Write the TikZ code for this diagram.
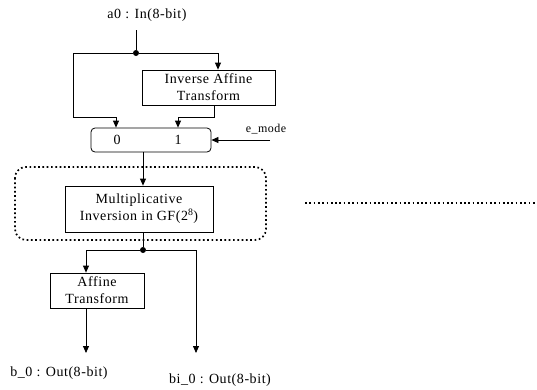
\documentclass[tikz,border=0pt]{standalone}
\usepackage{fontspec}
\setmainfont[LetterSpace=4]{Liberation Serif}
\usetikzlibrary{arrows.meta,calc}
\begin{document}
\begin{tikzpicture}[x=1pt,y=-1pt,
  every node/.style={font=\fontsize{14}{17}\selectfont, inner sep=0pt},
  wire/.style={line width=0.8pt},
  arr/.style={wire,-{Triangle[length=7pt,width=6pt]}},
  blockbox/.style={draw, line width=0.8pt, align=center, minimum width=#1},
  junction/.style={circle, fill, minimum size=6pt},
  dotline/.style={line width=1.7pt, dash pattern=on 1.7pt off 2.6pt}]
\useasboundingbox (0,0) rectangle (537,389);

% input and first split
\node (a0) at (147,15) {a0 : In(8-bit)};
\coordinate (in) at (136,30);
\node[junction] (dot1) at (136,53) {};
\draw[wire] (in) -- (dot1);

% inverse affine transform
\node[blockbox=133pt, minimum height=35pt] (iat) at (208.5,87.5)
  {Inverse Affine\\Transform};

% multiplexer
\node[draw, line width=0.8pt, rounded corners=4pt, minimum width=120pt,
  minimum height=24pt] (mux) at (151,140) {};
\node (m0) at (117,140) {0};
\node (m1) at (178,140) {1};

\coordinate (lb) at (73,117);
\coordinate (i1) at (218,53);
\coordinate (i2) at (214,117);
\coordinate (mx0) at (116,117);
\coordinate (mx1) at (178,117);
\draw[arr] (dot1) -| (lb) -- (mx0) -- (mx0 |- mux.north);
\draw[arr] (dot1) -- (i1) -- (i1 |- iat.north);
\draw[arr] (i2 |- iat.south) -- (i2) -- (mx1) -- (mx1 |- mux.north);

% mode select
\coordinate (em) at (270,140);
\node (emode) at (266,129) {\fontsize{12}{14}\selectfont e\_mode};
\draw[arr] (em) -- (mux.east);

% multiplicative inversion, inside the dotted region
\draw[dotline, rounded corners=11pt] (15,167) rectangle (266,240);
\node[blockbox=148pt, minimum height=46pt] (mi) at (139,209)
  {Multiplicative\\Inversion in GF(2\textsuperscript{8})};
\coordinate (c) at (143,0);
\draw[arr] (c |- mux.south) -- (c |- mi.north);

% second split and outputs
\node[junction] (dot2) at (143,250) {};
\draw[wire] (c |- mi.south) -- (dot2);

\node[blockbox=94pt, minimum height=35pt] (aff) at (97,290.5)
  {Affine\\Transform};
\coordinate (af) at (86,250);
\coordinate (o1) at (86,353);
\coordinate (o2) at (196,353);
\draw[arr] (dot2) -- (af) -- (af |- aff.north);
\draw[arr] (o1 |- aff.south) -- (o1);
\draw[arr] (dot2) -| (o2);

\node (b0) at (59,373) {b\_0 : Out(8-bit)};
\node (bi0) at (220,380) {bi\_0 : Out(8-bit)};

% dotted rule on the right
\coordinate (r1) at (305,203);
\coordinate (r2) at (535,203);
\draw[dotline] (r1) -- (r2);
\end{tikzpicture}
\end{document}
